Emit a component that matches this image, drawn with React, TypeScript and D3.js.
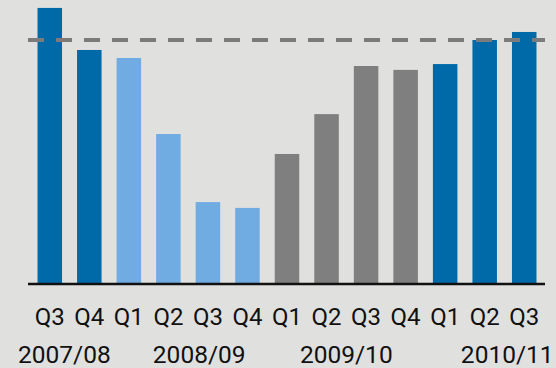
import React from "react";
import * as d3 from "d3";

const quarters = ["Q3", "Q4", "Q1", "Q2", "Q3", "Q4", "Q1", "Q2", "Q3", "Q4", "Q1", "Q2", "Q3"];
const values = [113.2, 95.9, 92.6, 61.3, 33.3, 30.9, 53.1, 69.5, 89.3, 87.7, 90.1, 100, 103.3];
const groups = [0, 0, 1, 1, 1, 1, 2, 2, 2, 2, 0, 0, 0];
const yearLabels = ["2007/08", "2008/09", "2009/10", "2010/11"];
const yearAt = [0.37, 3.78, 7.5, 11.57];
const reference = 100;

const W = 556;
const H = 368;
const colors = ["#006aa8", "#70ace2", "#7f7f7f"];

export default function App() {
  const ids = quarters.map((_, i) => String(i));
  const x = d3.scaleBand<string>().domain(ids).range([30, 544]).paddingInner(0.38).paddingOuter(0.19);
  const y = d3.scaleLinear().domain([0, 100]).range([283, 40]);
  const step = x.step();
  const c0 = (x("0") as number) + x.bandwidth() / 2;
  const pos = (i: number) => c0 + i * step;
  const font = "Roboto, 'DejaVu Sans', sans-serif";

  return (
    <svg width={W} height={H} style={{ position: "fixed", left: 0, top: 0, display: "block" }}>
      <rect x={0} y={0} width={W} height={H} fill="#e0e0df" />
      {values.map((v, i) => (
        <rect
          key={i}
          x={x(String(i))}
          y={y(v)}
          width={x.bandwidth()}
          height={y(0) - y(v)}
          fill={colors[groups[i]]}
        />
      ))}
      <line x1={28} x2={545} y1={y(0) + 1} y2={y(0) + 1} stroke="#111" strokeWidth={2.5} />
      <line
        x1={28}
        x2={545}
        y1={y(reference)}
        y2={y(reference)}
        stroke="#7b7b7b"
        strokeWidth={4}
        strokeDasharray="16,12"
      />
      {quarters.map((q, i) => (
        <text
          key={i}
          x={pos(i)}
          y={324.5}
          textAnchor="middle"
          fontFamily={font}
          fontSize={24}
          fill="#111"
        >
          {q}
        </text>
      ))}
      {yearLabels.map((t, i) => (
        <text
          key={t}
          x={pos(yearAt[i])}
          y={362.5}
          textAnchor="middle"
          fontFamily={font}
          fontSize={24.5}
          fill="#111"
        >
          {t}
        </text>
      ))}
    </svg>
  );
}
